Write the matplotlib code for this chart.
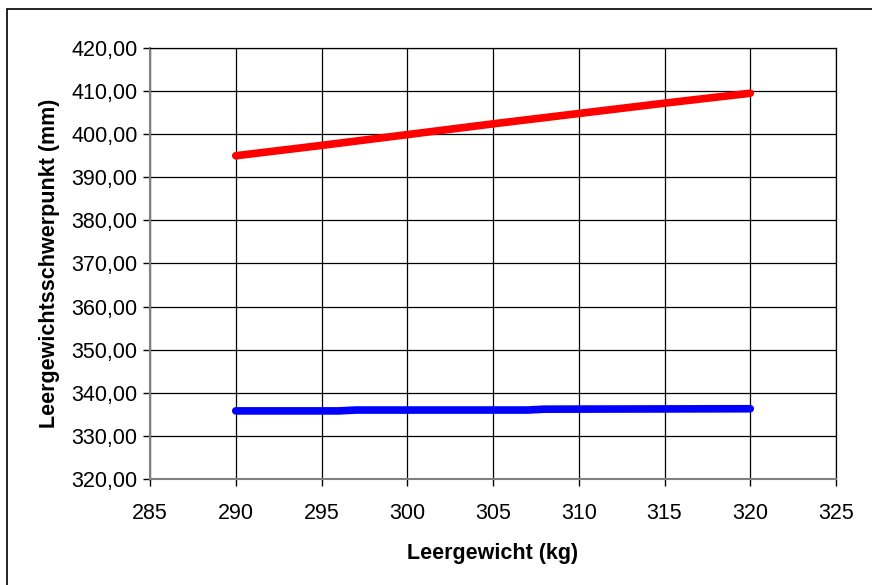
import matplotlib
matplotlib.use("Agg")
import matplotlib.pyplot as plt
from matplotlib.patches import Rectangle
from matplotlib.ticker import FuncFormatter, MultipleLocator

plt.rcParams['font.family'] = ['Liberation Sans', 'DejaVu Sans']

# data
red_x = [290, 295, 300, 305, 310, 315, 320]
red_y = [395.0, 397.4, 399.9, 402.4, 404.8, 407.2, 409.5]
blue_x = [290, 296, 297, 307, 308, 320]
blue_y = [335.8, 335.8, 336.0, 336.0, 336.2, 336.3]

fig = plt.figure(figsize=(8.72, 5.85), dpi=100)
ax = fig.add_axes([150 / 872, 1 - 479 / 585, 686 / 872, 431 / 585])

# outer chart border
fig.patches.append(Rectangle((7 / 872, -0.01), 1, 1.01 - 9 / 585, transform=fig.transFigure,
                             fill=False, edgecolor='black', linewidth=1.2))

ax.plot(red_x, red_y, color='#ff0000', linewidth=5.5, solid_capstyle='round')
ax.plot(blue_x, blue_y, color='#0000ff', linewidth=5.5, solid_capstyle='round')

ax.set_xlim(285, 325)
ax.set_ylim(320, 420)
ax.xaxis.set_major_locator(MultipleLocator(5))
ax.yaxis.set_major_locator(MultipleLocator(10))
ax.yaxis.set_major_formatter(FuncFormatter(lambda v, p: f"{v:.2f}".replace('.', ',')))

ax.grid(True, color='black', linewidth=0.9)
ax.set_axisbelow(True)
for s in ax.spines.values():
    s.set_color('black')
    s.set_linewidth(0.9)
ax.spines['left'].set_color('#808080')
ax.spines['left'].set_linewidth(1.5)
ax.spines['bottom'].set_color('#808080')
ax.spines['bottom'].set_linewidth(1.5)
ax.tick_params(direction='out', length=5, width=1, labelsize=15.5)
ax.tick_params(axis='x', pad=12)
ax.tick_params(axis='y', pad=4)

ax.set_xlabel('Leergewicht (kg)', fontsize=15.5, fontweight='bold', labelpad=14)
ax.set_ylabel('Leergewichtsschwerpunkt (mm)', fontsize=15.5, fontweight='bold', labelpad=8)

fig.savefig('out.png', dpi=100)
